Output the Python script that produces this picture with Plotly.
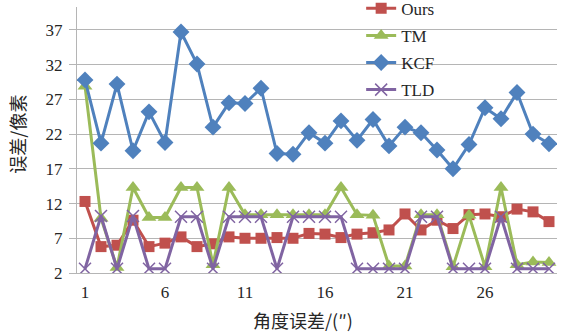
import plotly.graph_objects as go

# Angle error index (categories on the x axis)
angle = list(range(1, 31))

# Pixel error of each tracker
ours = [12.3, 5.8, 6.0, 9.6, 5.8, 6.3, 7.2, 5.8, 6.2, 7.2,
        7.0, 7.0, 7.1, 7.0, 7.7, 7.6, 7.1, 7.6, 7.8, 8.2,
        10.5, 8.2, 9.6, 8.4, 10.4, 10.5, 10.1, 11.2, 10.8, 9.4]
tm = [28.9, 9.9, 2.8, 14.3, 10.0, 10.0, 14.3, 14.3, 3.2, 14.3,
      10.4, 10.4, 10.4, 10.4, 10.4, 10.4, 14.3, 10.4, 10.3, 3.0,
      3.0, 10.4, 10.4, 2.9, 10.3, 2.9, 14.3, 3.2, 3.6, 3.5]
kcf = [29.8, 20.7, 29.2, 19.6, 25.2, 20.8, 36.7, 32.1, 23.0, 26.5,
       26.4, 28.6, 19.2, 19.1, 22.2, 20.7, 23.9, 21.1, 24.1, 20.3,
       23.0, 22.2, 19.7, 17.0, 20.5, 25.8, 24.2, 28.0, 22.0, 20.6]
tld = [2.6, 10.2, 2.6, 10.2, 2.6, 2.6, 10.1, 10.1, 2.6, 10.1,
       10.1, 10.1, 2.6, 10.1, 10.1, 10.1, 10.1, 2.6, 2.6, 2.6,
       2.6, 10.1, 10.1, 2.6, 2.6, 2.6, 10.1, 2.6, 2.6, 2.6]

x_ticks = [1, 6, 11, 16, 21, 26]
y_ticks = [2, 7, 12, 17, 22, 27, 32, 37]

serif = "Liberation Serif, Times New Roman, serif"
cjk = "Noto Sans CJK SC, sans-serif"
grid = "#b5b5b5"

fig = go.Figure()
fig.add_trace(go.Scatter(x=angle, y=ours, name="Ours", legendgroup="ours", mode="lines+markers",
                         line=dict(color="#C0504D", width=3),
                         marker=dict(symbol="square", size=11, color="#C0504D")))
fig.add_trace(go.Scatter(x=angle, y=tm, name="TM", legendgroup="tm", mode="lines+markers",
                         line=dict(color="#9BBB59", width=3),
                         marker=dict(symbol="triangle-up", size=13, color="#9BBB59")))
fig.add_trace(go.Scatter(x=angle, y=kcf, name="KCF", legendgroup="kcf", mode="lines+markers",
                         line=dict(color="#4F81BD", width=3),
                         marker=dict(symbol="diamond", size=13, color="#4F81BD")))
fig.add_trace(go.Scatter(x=angle, y=tld, name="TLD", legendgroup="tld", mode="lines+markers",
                         line=dict(color="#8064A2", width=3),
                         marker=dict(symbol="x-thin-open", size=12,
                                     line=dict(color="#8064A2", width=1.5))))

fig.update_layout(
    width=566, height=334,
    margin=dict(l=77, r=9, t=7, b=61, autoexpand=False),
    paper_bgcolor="white", plot_bgcolor="white",
    font=dict(family=serif, size=17, color="#262626"),
    showlegend=True,
    legend=dict(x=0.592, y=1.061, xanchor="left", yanchor="top",
                bgcolor="rgba(0,0,0,0)", font=dict(family=serif, size=17, color="#262626"),
                tracegroupgap=2, itemwidth=30),
    xaxis=dict(range=[0.5, 30.5], tickmode="array", tickvals=x_ticks,
               ticktext=[str(v) for v in x_ticks], showgrid=False, zeroline=False,
               showline=True, linecolor=grid, linewidth=1.2, ticks="",
               ticklabelstandoff=3, tickfont=dict(family=serif, size=17)),
    yaxis=dict(range=[2, 40.3], tickmode="array", tickvals=y_ticks,
               ticktext=[str(v) for v in y_ticks], showgrid=True, gridcolor=grid,
               gridwidth=1.2, zeroline=False, showline=True, linecolor=grid,
               linewidth=1.2, ticks="outside", ticklen=7, tickcolor=grid,
               ticklabelstandoff=3, tickfont=dict(family=serif, size=17)),
    annotations=[
        dict(text="误差/像素", xref="paper", yref="paper", x=-0.125, y=0.52,
             xanchor="center", yanchor="middle", textangle=-90, showarrow=False,
             font=dict(family=cjk, size=18, color="#262626")),
        dict(text="角度误差/(″)", xref="paper", yref="paper", x=0.47, y=-0.178,
             xanchor="center", yanchor="middle", showarrow=False,
             font=dict(family=cjk, size=18, color="#262626")),
    ],
)

fig.write_html("out.html")
